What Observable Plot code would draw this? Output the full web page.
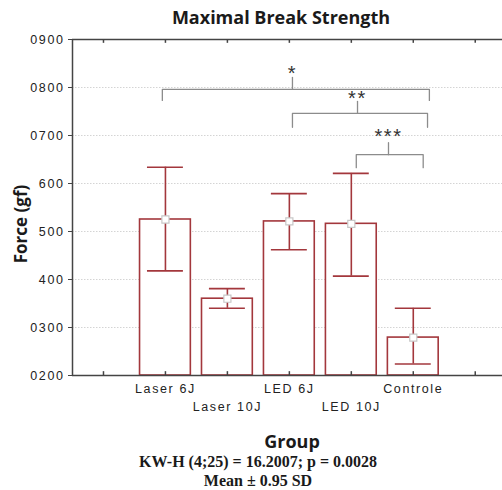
<!DOCTYPE html>
<html>
<head>
<meta charset="utf-8">
<script src="https://cdn.jsdelivr.net/npm/d3@7"></script>
<script src="https://cdn.jsdelivr.net/npm/@observablehq/plot@0.6"></script>
<style>
  html, body { margin: 0; padding: 0; background: #fff; }
  body { width: 502px; height: 490px; position: relative; overflow: hidden; }
  .t { position: absolute; white-space: nowrap; color: #1a1a1a; z-index: 2; }
  #title { left: 0; width: 562px; top: 5px; text-align: center; font: bold 18px "Open Sans", sans-serif; }
  #ylab { left: 20px; top: 224px; transform: translate(-50%, -50%) rotate(-90deg); font: bold 17px "Open Sans", sans-serif; }
  #xlab { left: 0; width: 584px; top: 429px; text-align: center; font: bold 18px "Open Sans", sans-serif; }
  #cap1 { left: 0; width: 516px; top: 453px; text-align: center; font: bold 16px "Liberation Serif", "Times New Roman", serif; }
  #cap2 { left: 0; width: 516px; top: 472px; text-align: center; font: bold 16px "Liberation Serif", "Times New Roman", serif; }
  #chart { position: absolute; left: 0; top: 30px; z-index: 1; }
</style>
</head>
<body>
<div class="t" id="title">Maximal Break Strength</div>
<div class="t" id="ylab">Force (gf)</div>
<div id="chart"></div>
<div class="t" id="xlab">Group</div>
<div class="t" id="cap1">KW-H (4;25) = 16.2007; p = 0.0028</div>
<div class="t" id="cap2">Mean ± 0.95 SD</div>
<script>
// ---- data ----
const categories = ["Laser 6J", "Laser 10J", "LED 6J", "LED 10J", "Controle"];
const positions = [1, 2, 3, 4, 5];
const means = [525, 360, 521, 516, 279];
const upper = [634, 381, 579, 621, 340];
const lower = [418, 340, 462, 407, 224];

const yTickValues = [200, 300, 400, 500, 600, 700, 800, 900];
const yTickLabels = ["0200", "0300", "400", "500", "600", "0700", "0800", "0900"];
const xTickPositions = [0, 1, 2, 3, 4, 5, 6];

// significance brackets (x in category-position units, y in gf)
const bracketLabels = ["*", "**", "***"];
const bracketX1 = [0.95, 3.05, 4.08];
const bracketX2 = [5.26, 5.23, 5.16];
const bracketXC = [3.05, 4.1, 4.6];
const bracketY = [796, 746, 660];
const bracketYEnd = [773, 717, 633];
const bracketYTop = [821, 771, 685];
const starY = [829, 776, 697];

// ---- build tables ----
const groups = categories.map((c, i) => ({
  cat: c, pos: positions[i], mean: means[i], hi: upper[i], lo: lower[i], row: i % 2
}));
const bracketPts = [];
bracketLabels.forEach((b, i) => {
  bracketPts.push({z: i + "a", x: bracketX1[i], y: bracketYEnd[i]});
  bracketPts.push({z: i + "a", x: bracketX1[i], y: bracketY[i]});
  bracketPts.push({z: i + "a", x: bracketX2[i], y: bracketY[i]});
  bracketPts.push({z: i + "a", x: bracketX2[i], y: bracketYEnd[i]});
  bracketPts.push({z: i + "b", x: bracketXC[i], y: bracketY[i]});
  bracketPts.push({z: i + "b", x: bracketXC[i], y: bracketYTop[i]});
});
const stars = bracketLabels.map((b, i) => ({label: b, x: bracketXC[i], y: starY[i]}));

const barHalf = 0.41, capHalf = 0.29;
const barColor = "#a3373c";
const labelMap = new Map(yTickValues.map((v, i) => [v, yTickLabels[i]]));

const plot = Plot.plot({
  width: 502,
  height: 400,
  marginLeft: 72,
  marginRight: 0,
  marginTop: 9,
  marginBottom: 55,
  style: {fontFamily: "Arial, 'Liberation Sans', sans-serif", background: "transparent", overflow: "visible"},
  x: {domain: [-0.5, 6.44], axis: null},
  y: {domain: [200, 900], axis: null},
  marks: [
    // grid
    Plot.ruleY(yTickValues.filter(v => v > 200 && v < 900), {stroke: "#d4d4d4", strokeWidth: 1, strokeDasharray: "1.5,1.5"}),
    // bars
    Plot.rect(groups, {x1: d => d.pos - barHalf, x2: d => d.pos + barHalf, y1: 200, y2: "mean",
      fill: "white", stroke: barColor, strokeWidth: 1.6}),
    // error bars
    Plot.ruleX(groups, {x: "pos", y1: "lo", y2: "hi", stroke: barColor, strokeWidth: 1.6}),
    Plot.ruleY(groups, {y: "hi", x1: d => d.pos - capHalf, x2: d => d.pos + capHalf, stroke: barColor, strokeWidth: 1.6}),
    Plot.ruleY(groups, {y: "lo", x1: d => d.pos - capHalf, x2: d => d.pos + capHalf, stroke: barColor, strokeWidth: 1.6}),
    // mean markers
    Plot.dot(groups, {x: "pos", y: "mean", symbol: "square", r: 4, fill: "white", stroke: "#c8c8c8", strokeWidth: 1.2}),
    // frame
    Plot.ruleX([-0.5], {y1: 200, y2: 900, stroke: "#444", strokeWidth: 1.5}),
    Plot.ruleY([200, 900], {x1: -0.5, x2: 6.44, stroke: "#444", strokeWidth: 1.5}),
    // top & bottom inward ticks
    Plot.ruleX(xTickPositions, {y1: 900, y2: 892, stroke: "#444", strokeWidth: 1.5}),
    Plot.ruleX(xTickPositions, {y1: 200, y2: 208, stroke: "#444", strokeWidth: 1.5}),
    // y axis
    Plot.axisY({ticks: yTickValues, tickSize: 4, tickPadding: 4, tickFormat: v => labelMap.get(v),
      fontSize: 12.5, stroke: "#444", fill: "#222", label: null}),
    // x category labels (staggered in two rows)
    Plot.text(groups.filter(d => d.row === 0), {x: "pos", y: 200, text: "cat", dy: 13, fontSize: 12.5, fill: "#222"}),
    Plot.text(groups.filter(d => d.row === 1), {x: "pos", y: 200, text: "cat", dy: 31, fontSize: 12.5, fill: "#222"}),
    // brackets
    Plot.line(bracketPts, {x: "x", y: "y", z: "z", stroke: "#8c8c8c", strokeWidth: 1.3}),
    Plot.text(stars, {x: "x", y: "y", text: "label", fontSize: 20, fill: "#333", fontWeight: "normal"})
  ]
});
document.getElementById("chart").appendChild(plot);
// letter spacing for axis and category text like the original
plot.querySelectorAll("text").forEach(t => t.style.letterSpacing = "1.6px");
</script>
</body>
</html>
